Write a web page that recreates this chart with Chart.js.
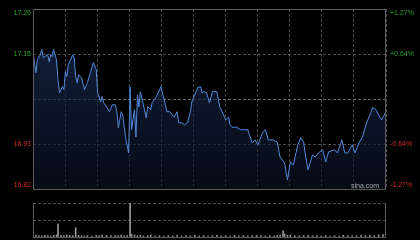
<!DOCTYPE html>
<html><head><meta charset="utf-8">
<script src="https://cdn.jsdelivr.net/npm/chart.js@4"></script>
<style>
html,body{margin:0;padding:0;background:#000;width:420px;height:240px;overflow:hidden}
#cm{position:absolute;left:0;top:0}
#cv{position:absolute;left:0;top:196px}
#sina{position:absolute;left:351px;top:181px;font:7px "Liberation Sans",Arial,sans-serif;color:#aaa;line-height:10px}
</style></head><body>
<canvas id="cm" width="420" height="196"></canvas>
<canvas id="cv" width="420" height="44"></canvas>
<div id="sina">sina.com</div>
<script>
const minutes = [0,1,2,3,5,6,7,10,11,12,13,14,16,17,18,20,21,22,23,24,27,28,29,30,31,33,35,37,39,41,43,44,46,47,48,50,52,54,56,57,58,60,61,63,65,66,67,69,70,71,72,73,75,77,78,80,81,84,85,87,88,90,91,93,96,98,99,101,103,105,107,108,110,112,114,115,116,118,120,122,125,127,129,131,133,134,136,138,141,143,146,149,151,153,156,158,160,163,166,168,171,173,175,177,180,182,184,185,187,190,192,194,197,199,201,205,207,210,212,214,217,219,221,222,224,227,229,231,233,235,237,240];
const prices = [17.156,17.129,17.104,17.136,17.148,17.161,17.141,17.148,17.131,17.148,17.144,17.161,17.136,17.087,17.055,17.070,17.063,17.107,17.095,17.124,17.148,17.141,17.095,17.080,17.099,17.092,17.063,17.080,17.104,17.129,17.112,17.055,17.033,17.046,17.031,17.021,17.009,17.026,17.026,17.009,16.970,17.009,17.001,16.945,16.908,17.070,16.965,17.014,16.947,17.050,17.021,17.058,17.026,16.994,17.021,17.014,17.031,17.046,17.055,17.070,17.055,17.026,17.009,17.009,16.996,17.009,16.982,16.982,16.977,16.982,17.009,17.033,17.050,17.068,17.070,17.055,17.058,17.055,17.031,17.058,17.058,17.021,17.006,16.989,16.996,16.977,16.970,16.972,16.965,16.965,16.965,16.933,16.940,16.928,16.957,16.965,16.940,16.940,16.935,16.898,16.884,16.842,16.886,16.879,16.928,16.945,16.935,16.908,16.867,16.903,16.898,16.908,16.916,16.886,16.911,16.916,16.908,16.940,16.908,16.908,16.928,16.908,16.928,16.935,16.947,16.984,17.001,17.019,17.014,17.001,16.989,17.009];
const volMinutes = [0,2,4,6,8,10,12,14,16,17,19,21,23,25,27,29,31,33,35,37,40,43,45,47,50,53,56,58,60,62,64,66,67,69,71,73,75,78,80,83,86,89,92,95,98,101,104,107,110,113,116,119,122,125,128,131,134,137,140,143,146,149,152,155,158,161,164,166,168,170,171,173,175,178,181,184,187,190,193,196,199,202,205,208,211,214,217,220,223,226,229,232,235,238,240];
const volumes = [20,6,4,3,5,4,3,5,6,38,5,4,6,5,4,27,5,4,3,4,3,5,4,6,5,4,5,4,6,3,4,140,8,6,4,5,3,4,6,3,4,3,4,3,5,3,4,3,5,3,4,3,4,5,3,4,3,5,3,4,3,4,5,4,3,4,3,5,6,18,9,5,6,4,3,4,5,3,4,3,4,3,4,3,5,4,3,4,5,4,5,4,6,7,20];
const priceTicks = [16.82, 16.93, 17.04, 17.15, 17.26];
const priceLabels = ['16.82', '16.93', '', '17.15', '17.26'];
const pctLabels = ['-1.27%', '-0.64%', '', '+0.64%', '+1.27%'];
const volTicks = [0, 50, 100];

const GREEN = '#26a326', RED = '#d22b2b';
const FONT = '7px "Liberation Sans", Arial, sans-serif';
const gridColor = '#4a4a4a';

const mainDeco = {
  id: 'mainDeco',
  afterDraw(chart) {
    const {ctx, chartArea: a, scales: {y}} = chart;
    ctx.save();
    ctx.setLineDash([]);
    ctx.strokeStyle = '#5c5c5c';
    ctx.lineWidth = 1;
    ctx.strokeRect(a.left + 0.5, a.top + 0.5, a.right - a.left - 1, a.bottom - a.top);
    ctx.font = FONT;
    priceTicks.forEach((v, i) => {
      if (!priceLabels[i]) return;
      let py = y.getPixelForValue(v);
      if (i === priceTicks.length - 1) py += 4;
      if (i === 0) py -= 4;
      ctx.fillStyle = i > 2 ? GREEN : RED;
      ctx.textBaseline = 'middle';
      ctx.textAlign = 'right';
      ctx.fillText(priceLabels[i], a.left - 2, py);
      ctx.textAlign = 'left';
      ctx.fillText(pctLabels[i], a.right + 4, py + (i === 4 ? 0.5 : 0));
    });
    ctx.restore();
  }
};

new Chart(document.getElementById('cm'), {
  type: 'line',
  data: {
    datasets: [{
      data: minutes.map((m, i) => ({x: m, y: prices[i]})),
      borderColor: '#5289da',
      borderWidth: 1,
      pointRadius: 0,
      tension: 0,
      fill: 'start',
      backgroundColor(ctx) {
        const a = ctx.chart.chartArea;
        if (!a) return 'rgba(20,35,70,0.5)';
        const g = ctx.chart.ctx.createLinearGradient(0, a.top, 0, a.bottom);
        g.addColorStop(0, 'rgba(28,48,92,0.75)');
        g.addColorStop(1, 'rgba(10,18,36,0.6)');
        return g;
      }
    }]
  },
  options: {
    responsive: false,
    animation: false,
    devicePixelRatio: 1,
    layout: {padding: {left: 33, right: 34, top: 9, bottom: 7}},
    plugins: {legend: {display: false}, tooltip: {enabled: false}},
    scales: {
      x: {
        type: 'linear', min: 0, max: 240,
        ticks: {display: false},
        afterBuildTicks(s) { s.ticks = Array.from({length: 12}, (_, i) => ({value: i * 240 / 11})); },
        afterFit(s) { s.height = 0; },
        grid: {color: gridColor, drawTicks: false},
        border: {display: false, dash: [3, 2]}
      },
      y: {
        min: 16.82, max: 17.26,
        ticks: {display: false},
        afterBuildTicks(s) { s.ticks = priceTicks.map(v => ({value: v})); },
        afterFit(s) { s.width = 0; },
        grid: {color: (c) => c.tick && c.tick.value === 17.04 ? '#6a6a6a' : gridColor, drawTicks: false},
        border: {display: false, dash: [3, 2]}
      }
    }
  },
  plugins: [mainDeco]
});

const volDeco = {
  id: 'volDeco',
  afterDraw(chart) {
    const {ctx, chartArea: a} = chart;
    ctx.save();
    ctx.setLineDash([]);
    ctx.strokeStyle = '#5c5c5c';
    ctx.lineWidth = 1;
    ctx.beginPath();
    ctx.moveTo(a.left + 0.5, a.top); ctx.lineTo(a.left + 0.5, a.bottom + 0.5);
    ctx.lineTo(a.right - 0.5, a.bottom + 0.5); ctx.lineTo(a.right - 0.5, a.top);
    ctx.stroke();
    ctx.restore();
  }
};

new Chart(document.getElementById('cv'), {
  type: 'bar',
  data: {
    datasets: [{
      data: volMinutes.map((m, i) => ({x: m, y: volumes[i]})),
      backgroundColor: '#9a9a9a',
      barThickness: 1
    }]
  },
  options: {
    responsive: false,
    animation: false,
    devicePixelRatio: 1,
    layout: {padding: {left: 33, right: 34, top: 7, bottom: 3}},
    plugins: {legend: {display: false}, tooltip: {enabled: false}},
    scales: {
      x: {
        type: 'linear', min: 0, max: 240, offset: false,
        ticks: {display: false},
        afterFit(s) { s.height = 0; },
        grid: {display: false},
        border: {display: false}
      },
      y: {
        min: 0, max: 100,
        ticks: {display: false},
        afterBuildTicks(s) { s.ticks = volTicks.map(v => ({value: v})); },
        afterFit(s) { s.width = 0; },
        grid: {color: gridColor, drawTicks: false},
        border: {display: false, dash: [3, 2]}
      }
    }
  },
  plugins: [volDeco]
});
</script>
</body></html>
